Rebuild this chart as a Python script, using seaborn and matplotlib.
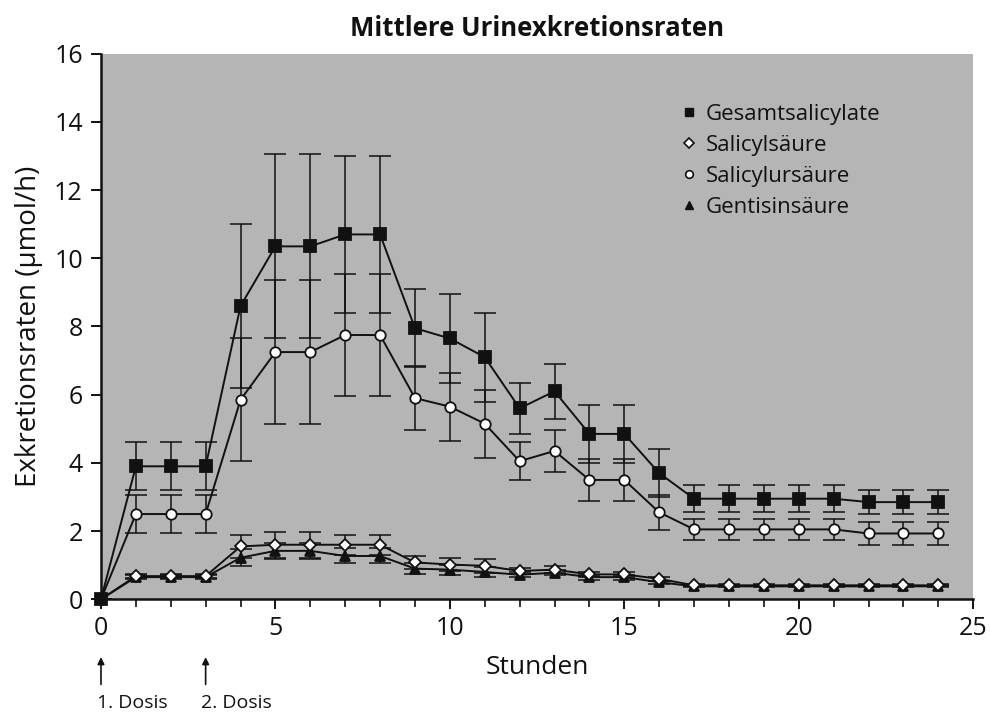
import matplotlib
matplotlib.use("Agg")
import matplotlib.pyplot as plt
from matplotlib.lines import Line2D
import seaborn as sns

# --- data ---
hours = list(range(25))

gesamt = [0, 3.9, 3.9, 3.9, 8.6, 10.35, 10.35, 10.7, 10.7, 7.95, 7.65, 7.1, 5.6,
          6.1, 4.85, 4.85, 3.7, 2.95, 2.95, 2.95, 2.95, 2.95, 2.85, 2.85, 2.85]
gesamt_sd = [0, 0.7, 0.7, 0.7, 2.4, 2.7, 2.7, 2.3, 2.3, 1.15, 1.3, 1.3, 0.75,
             0.8, 0.85, 0.85, 0.7, 0.4, 0.4, 0.4, 0.4, 0.4, 0.35, 0.35, 0.35]

salicylur = [0, 2.5, 2.5, 2.5, 5.85, 7.25, 7.25, 7.75, 7.75, 5.9, 5.65, 5.15, 4.05,
             4.35, 3.5, 3.5, 2.55, 2.05, 2.05, 2.05, 2.05, 2.05, 1.93, 1.93, 1.93]
salicylur_sd = [0, 0.57, 0.57, 0.57, 1.8, 2.1, 2.1, 1.8, 1.8, 0.95, 1.0, 1.0, 0.55,
                0.62, 0.62, 0.62, 0.52, 0.3, 0.3, 0.3, 0.3, 0.3, 0.33, 0.33, 0.33]

salicyl = [0, 0.68, 0.68, 0.68, 1.55, 1.6, 1.6, 1.6, 1.6, 1.08, 1.02, 0.98, 0.83,
           0.87, 0.73, 0.73, 0.6, 0.41, 0.41, 0.41, 0.41, 0.41, 0.41, 0.41, 0.41]
salicyl_sd = [0, 0.05, 0.05, 0.05, 0.33, 0.38, 0.38, 0.3, 0.3, 0.2, 0.2, 0.2, 0.1,
              0.1, 0.08, 0.08, 0.06, 0.03, 0.03, 0.03, 0.03, 0.03, 0.03, 0.03, 0.03]

gentisin = [0, 0.65, 0.65, 0.65, 1.22, 1.42, 1.42, 1.27, 1.27, 0.9, 0.87, 0.8, 0.72,
            0.78, 0.65, 0.65, 0.5, 0.38, 0.38, 0.38, 0.38, 0.38, 0.38, 0.38, 0.38]
gentisin_sd = [0, 0.05, 0.05, 0.05, 0.25, 0.23, 0.23, 0.22, 0.22, 0.15, 0.15, 0.15, 0.08,
               0.08, 0.07, 0.07, 0.05, 0.03, 0.03, 0.03, 0.03, 0.03, 0.03, 0.03, 0.03]

labels = ["Gesamtsalicylate", "Salicylsäure", "Salicylursäure", "Gentisinsäure"]
doses = [0, 3]
dose_labels = ["1. Dosis", "2. Dosis"]

# --- style ---
sns.set_theme(style="ticks")
plt.rcParams['font.family'] = ['Open Sans', 'DejaVu Sans']
ink = '#111111'

fig = plt.figure(figsize=(9.9, 7.16), dpi=100)
ax = fig.add_axes([0.102, 0.163, 0.881, 0.762])
ax.set_facecolor('#b5b5b5')

# series: (values, sd, marker, facecolor)
series = [
    (gentisin, gentisin_sd, '^', ink),
    (salicyl, salicyl_sd, 'D', 'white'),
    (salicylur, salicylur_sd, 'o', 'white'),
    (gesamt, gesamt_sd, 's', ink),
]
sizes = {'^': 7, 'D': 6, 'o': 7.5, 's': 8}

for vals, sd, mk, fc in series:
    ax.errorbar(hours, vals, yerr=sd, fmt='none', ecolor=ink,
                elinewidth=1.1, capsize=8, capthick=1.1, zorder=2)
    sns.lineplot(x=hours, y=vals, ax=ax, color=ink, linewidth=1.4,
                 marker=mk, markersize=sizes[mk], markerfacecolor=fc,
                 markeredgecolor=ink, markeredgewidth=1.3,
                 clip_on=False, zorder=3, legend=False)

ax.set_xlim(0, 25)
ax.set_ylim(0, 16)
ax.set_xticks([0, 5, 10, 15, 20, 25])
ax.set_xticks(hours, minor=True)
ax.set_yticks(range(0, 17, 2))
ax.tick_params(axis='both', which='major', labelsize=18, length=7, width=1.4,
               direction='out', color=ink, labelcolor=ink)
ax.tick_params(axis='y', which='major', pad=6)
ax.tick_params(axis='x', which='major', pad=5)
ax.tick_params(axis='x', which='minor', length=6, width=1.2, color=ink)
sns.despine(ax=ax)
for side in ['left', 'bottom']:
    ax.spines[side].set_linewidth(1.8)
    ax.spines[side].set_color(ink)

ax.set_xlabel('Stunden', fontsize=19, color=ink, labelpad=10)
ax.set_ylabel('Exkretionsraten (µmol/h)', fontsize=20, color=ink, labelpad=8)
ax.set_title('Mittlere Urinexkretionsraten', fontsize=18.5, fontweight='bold',
             color=ink, pad=13)

# legend with markers only
handles = [
    Line2D([], [], linestyle='none', marker='s', markersize=6, color=ink),
    Line2D([], [], linestyle='none', marker='D', markersize=5, markerfacecolor='white',
           markeredgecolor=ink, markeredgewidth=1.2),
    Line2D([], [], linestyle='none', marker='o', markersize=5.5, markerfacecolor='white',
           markeredgecolor=ink, markeredgewidth=1.2),
    Line2D([], [], linestyle='none', marker='^', markersize=6, color=ink),
]
ax.legend(handles, labels, loc='upper left', bbox_to_anchor=(0.655, 0.924),
          frameon=False, fontsize=16, handlelength=0.7, handletextpad=0.4,
          labelspacing=0.45, labelcolor=ink, borderaxespad=0)

# dose arrows below the axis
for d, lab in zip(doses, dose_labels):
    ax.annotate('', xy=(d, -0.106), xytext=(d, -0.156),
                xycoords=('data', 'axes fraction'), textcoords=('data', 'axes fraction'),
                arrowprops=dict(arrowstyle='-|>', color=ink, lw=1.2,
                                mutation_scale=10, shrinkA=0, shrinkB=0),
                annotation_clip=False)
    ax.text(d - 0.12, -0.19, lab, transform=ax.get_xaxis_transform(),
            ha='left', va='center', fontsize=14, color=ink)

fig.savefig('out.png', dpi=100)
